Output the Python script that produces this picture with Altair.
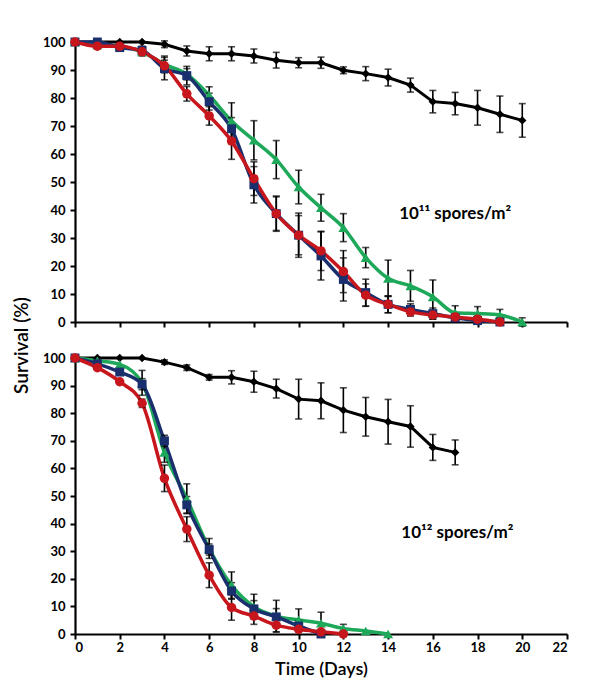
import altair as alt
import pandas as pd

# ---------------- data ----------------
# Top panel: 10^11 spores/m2
top_ctrl_days = list(range(0, 21))
top_ctrl = [100, 100, 100, 100, 99.2, 96.8, 95.8, 95.8, 95, 93.5, 92.6, 92.6, 89.9, 88.7, 87.3, 84.6, 78.7, 78, 76.5, 74.2, 72]
top_ctrl_err = [0, 0, 0, 0, 1.2, 1.8, 2.5, 2.5, 2.5, 2.8, 1.8, 2, 1.2, 2.5, 3, 2.5, 4, 4, 6.2, 6.5, 6]

top_green_days = list(range(0, 21))
top_green = [100, 99, 98.5, 96.5, 92, 88.5, 81, 71.8, 64.9, 58, 48.2, 40.8, 33.7, 23, 15.6, 12.9, 9, 3.3, 3, 2.5, 0]
top_green_err = [0, 0, 0, 1.5, 3, 2, 3, 6.5, 7, 6.8, 6, 4.8, 5, 3.6, 6.5, 5.5, 6, 2.5, 2.5, 2, 1.5]

top_blue_days = list(range(0, 20))
top_blue = [100, 100, 98, 97, 90.5, 88, 78.7, 69, 49, 38.7, 31, 23.6, 15.2, 10.5, 6.3, 4.5, 3, 1.5, 0.5, 0]
top_blue_err = [0, 0, 0, 1.5, 4, 3.3, 3, 4, 6.5, 6.3, 7.9, 8.6, 7.7, 4.8, 3, 2, 2, 1, 0, 0]

top_red_days = list(range(0, 20))
top_red = [100, 98.5, 98.5, 96.5, 91.5, 81.5, 73.6, 64.6, 51.2, 38.7, 31, 25.4, 18, 9.6, 6.3, 3.6, 2.5, 1.8, 1, 0]
top_red_err = [0, 0, 0, 0, 2, 2.6, 3.3, 6.5, 6, 6, 7, 7, 7.5, 4, 3, 1.5, 1.5, 1, 0, 0]

# Bottom panel: 10^12 spores/m2
bot_ctrl_days = list(range(0, 18))
bot_ctrl = [100, 100, 100, 100, 98.5, 96.5, 93, 93, 91.4, 88.9, 85.1, 84.5, 81.1, 78.7, 76.9, 75.2, 67.6, 65.8]
bot_ctrl_err = [0, 0, 0, 0, 0.8, 1, 1, 2.4, 3.8, 3.4, 7.2, 6.5, 8.1, 7, 8.1, 7.5, 4.7, 4.5]

bot_green_days = list(range(0, 15))
bot_green = [100, 99, 97.7, 91, 65.8, 49, 31, 17.7, 9.9, 6.5, 5.1, 3.9, 2, 1.1, 0]
bot_green_err = [0, 0, 0, 4.5, 3.6, 5.4, 3.6, 4.8, 4.5, 5.7, 4, 4, 1.5, 0, 0]

bot_blue_days = list(range(0, 12))
bot_blue = [100, 97.9, 94.9, 90.5, 70, 46.8, 30.6, 15.6, 9.1, 6.2, 2.9, 0]
bot_blue_err = [0, 0, 0, 2, 2, 3, 2, 3, 3, 3, 2, 0]

bot_red_days = list(range(0, 13))
bot_red = [100, 96.5, 91.4, 83.6, 56.4, 38, 21.3, 9.6, 6.5, 3.2, 1.7, 0.8, 0]
bot_red_err = [0, 0, 0, 1.5, 4.8, 4.5, 4.5, 4.6, 3, 2.5, 0, 0, 0]

x_ticks = list(range(0, 23, 2))
y_ticks = list(range(0, 101, 10))

FONT = "Lato"
BLACK = "#000000"
GREEN = "#1EA85A"
BLUE = "#1A2F6E"
RED = "#C8161D"
DIAMOND = "M0,-1L1,0L0,1L-1,0Z"

X_SCALE = alt.Scale(domain=[0, 22], nice=False, zero=False)
Y_SCALE = alt.Scale(domain=[0, 100], nice=False)


def panel(series, label, label_x, label_y, show_x_labels, height):
    x_axis = alt.Axis(values=x_ticks, labels=show_x_labels, labelOverlap=False,
                      title="Time (Days)" if show_x_labels else None,
                      titleFontSize=18, titleFontWeight=600, titlePadding=6)
    y_axis = alt.Axis(values=y_ticks, title=None, labelOverlap=False, tickCount=11)

    def X(f):
        return alt.X(f, scale=X_SCALE, axis=x_axis)

    def Y(f):
        return alt.Y(f, scale=Y_SCALE, axis=y_axis)

    line_layers, err_layers, pt_layers = [], [], []
    for days, vals, errs, color, shape, size, interp, sw in series:
        df = pd.DataFrame({"day": days, "val": vals, "err": errs})
        df["lo"] = df["val"] - df["err"]
        df["hi"] = df["val"] + df["err"]
        base = alt.Chart(df)
        line_layers.append(
            base.mark_line(color=color, strokeWidth=sw, interpolate=interp).encode(
                x=X("day:Q"), y=Y("val:Q")
            )
        )
        edf = df[df["err"] > 0]
        eb = alt.Chart(edf)
        err_layers.append(
            eb.mark_rule(color=BLACK, strokeWidth=1.6).encode(
                x=X("day:Q"), y=Y("lo:Q"), y2="hi:Q"
            )
        )
        for f in ("lo:Q", "hi:Q"):
            err_layers.append(
                eb.mark_tick(color=BLACK, orient="horizontal", size=7, thickness=1.6).encode(
                    x=X("day:Q"), y=Y(f)
                )
            )
        pt_layers.append(
            base.mark_point(filled=True, opacity=1, color=color, shape=shape, size=size).encode(
                x=X("day:Q"), y=Y("val:Q")
            )
        )

    txt = alt.Chart(pd.DataFrame({"t": [label]})).mark_text(
        font=FONT, fontSize=17, fontWeight="bold", color=BLACK
    ).encode(x=alt.datum(label_x), y=alt.datum(label_y), text="t:N")

    return alt.layer(*line_layers, *err_layers, *pt_layers, txt).properties(
        width=492, height=height
    )


top = panel(
    [
        (top_ctrl_days, top_ctrl, top_ctrl_err, BLACK, DIAMOND, 70, "linear", 3),
        (top_green_days, top_green, top_green_err, GREEN, "triangle-up", 100, "monotone", 3.5),
        (top_blue_days, top_blue, top_blue_err, BLUE, "square", 80, "monotone", 3.5),
        (top_red_days, top_red, top_red_err, RED, "circle", 90, "monotone", 3.5),
    ],
    "10\u00b9\u00b9 spores/m\u00b2", 17.0, 38.6, False, 280,
)

bottom = panel(
    [
        (bot_ctrl_days, bot_ctrl, bot_ctrl_err, BLACK, DIAMOND, 70, "linear", 3),
        (bot_green_days, bot_green, bot_green_err, GREEN, "triangle-up", 100, "monotone", 3.5),
        (bot_blue_days, bot_blue, bot_blue_err, BLUE, "square", 80, "monotone", 3.5),
        (bot_red_days, bot_red, bot_red_err, RED, "circle", 90, "monotone", 3.5),
    ],
    "10\u00b9\u00b2 spores/m\u00b2", 17.1, 36.5, True, 276,
)

chart = alt.vconcat(top, bottom, spacing=22).properties(
    title=alt.TitleParams("Survival (%)", orient="left", anchor="middle",
                          fontSize=19, font=FONT, fontWeight=600, color=BLACK,
                          offset=10, dx=11),
    padding={"left": 5, "top": 27, "right": 5, "bottom": 5},
).configure_view(stroke=None).configure_axis(
    grid=False,
    domainColor=BLACK, domainWidth=2.2,
    tickColor=BLACK, tickWidth=2, tickSize=5,
    labelFont=FONT, labelFontSize=13, labelFontWeight="bold", labelColor=BLACK,
    titleFont=FONT, titleColor=BLACK,
).configure_axisY(labelPadding=5)

chart.save("out.html", embed_options={"renderer": "svg", "actions": False})
